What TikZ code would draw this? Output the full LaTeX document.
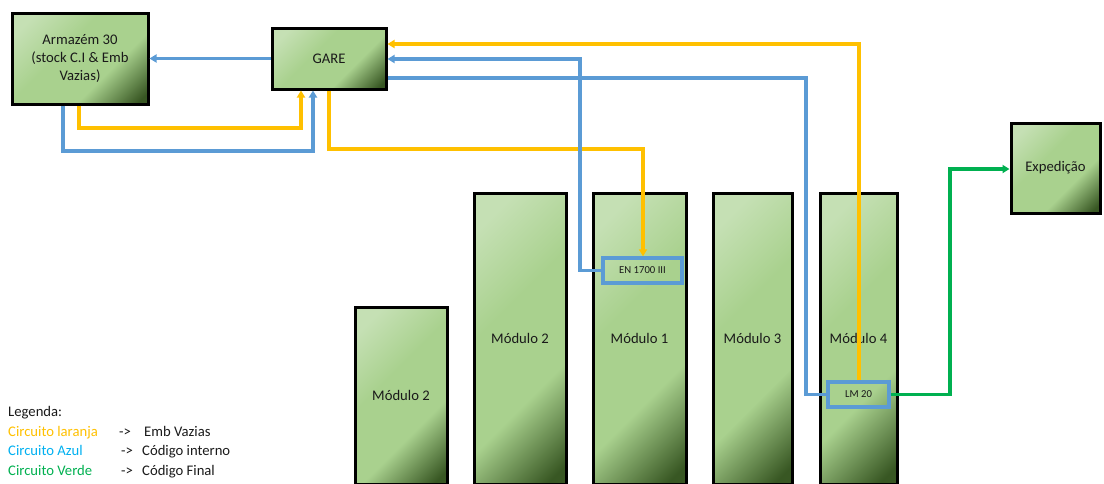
\documentclass[tikz,border=0pt]{standalone}
\usepackage{fontspec}
\setmainfont{Carlito}
\usetikzlibrary{arrows.meta,calc}
\definecolor{orng}{HTML}{FFC000}
\definecolor{blu}{HTML}{5B9BD5}
\definecolor{grn}{HTML}{00B050}
\definecolor{azul}{HTML}{00B0F0}
\definecolor{gA}{HTML}{C5E0B4}
\definecolor{gB}{HTML}{A9D18E}
\definecolor{gC}{HTML}{385723}
\definecolor{ink}{HTML}{1A1A1A}
% diagonal green gradient used by all boxes
\pgfdeclarehorizontalshading{boxgrad}{100bp}{color(0bp)=(gA); color(22bp)=(gA); color(42bp)=(gB); color(63bp)=(gB); color(82bp)=(gC); color(100bp)=(gC)}
\begin{document}
\begin{tikzpicture}[x=1pt,y=-1pt,
  box/.style={draw=black, line width=3pt, shade, shading=boxgrad, shading angle=-45,
    inner sep=0pt, align=center, text=ink, font=\fontsize{14.67}{18}\selectfont},
  tag/.style={draw=blu, line width=3.4pt, fill=none, inner sep=0pt, text=ink,
    font=\fontsize{10.67}{12}\selectfont},
  conn/.style={line width=3.1pt},
  or/.style={conn, draw=orng},
  bl/.style={conn, draw=blu},
  gr/.style={conn, draw=grn},
  arr/.style={-{Triangle[length=7pt,width=8pt]}},
  leg/.style={anchor=base west, inner sep=0pt, font=\fontsize{14.67}{18}\selectfont}]
\useasboundingbox (0,0) rectangle (1104,483);
\clip (0,0) rectangle (1104,483);

% main boxes
\node[box, minimum width=136pt, minimum height=91pt] (arm) at (80,58.5)
  {Armazém 30\\(stock C.I \& Emb\\Vazias)};
\node[box, minimum width=114pt, minimum height=61pt] (gare) at (329,58.5) {GARE};
\node[box, minimum width=89pt, minimum height=90pt] (exp) at (1055.5,168) {Expedição};

% production modules
\node[box, minimum width=92pt, minimum height=177pt] (m2a) at (401,395.5) {Módulo 2};
\node[box, minimum width=92pt, minimum height=291pt] (m2b) at (520,338.5) {Módulo 2};
\node[box, minimum width=93pt, minimum height=291pt] (m1) at (639.5,338.5) {Módulo 1};
\node[box, minimum width=79pt, minimum height=291pt] (m3) at (752.5,338.5) {Módulo 3};
\node[box, minimum width=77pt, minimum height=291pt] (m4) at (858.5,338.5) {Módulo 4};

% machine tags
\node[tag, minimum width=79pt, minimum height=25pt] (en) at (642.5,270.5) {EN 1700 III};
\node[tag, minimum width=61pt, minimum height=25pt] (lm) at (858.5,394.5) {LM 20};

% bend points
\coordinate (o1a) at (79,128);   \coordinate (o1b) at (301,128);
\coordinate (b1a) at (63,151);   \coordinate (b1b) at (313,151);
\coordinate (o2a) at (329,149);  \coordinate (o2b) at (643,149);
\coordinate (b2) at (580,59);
\coordinate (o3) at (859,44);
\coordinate (b3) at (806,78);
\coordinate (g1) at (950,169);

% connectors
\draw[bl,arr] (gare.west) -- (arm.east);
\draw[or,arr] (arm.south -| o1a) -- (o1a) -- (o1b) -- (gare.south -| o1b);
\draw[bl,arr] (arm.south -| b1a) -- (b1a) -- (b1b) -- (gare.south -| b1b);
\draw[or,arr] (gare.south -| o2a) -- (o2a) -- (o2b) -- (en.north -| o2b);
\draw[bl,arr] (en.west) -| (b2) -- (gare.east |- b2);
\draw[bl] (lm.west) -| (b3) -- (gare.east |- b3);
\draw[or,arr] (lm.north -| o3) -- (o3) -- (gare.east |- o3);
\draw[gr,arr] (lm.east) -| (g1) -- (exp.west |- g1);

% legend
\node[leg, text=ink] (lg) at (8,416.5) {Legenda:};
\node[leg, text=orng] (l1) at (8,436) {Circuito laranja};
\node[leg, text=ink] (l1a) at (119,436) {->};
\node[leg, text=ink] (l1b) at (144,436) {Emb Vazias};
\node[leg, text=azul] (l2) at (8,455.5) {Circuito Azul};
\node[leg, text=ink] (l2a) at (121,455.5) {->};
\node[leg, text=ink] (l2b) at (142,455.5) {Código interno};
\node[leg, text=grn] (l3) at (8,475) {Circuito Verde};
\node[leg, text=ink] (l3a) at (121,475) {->};
\node[leg, text=ink] (l3b) at (142,475) {Código Final};
\end{tikzpicture}
\end{document}
